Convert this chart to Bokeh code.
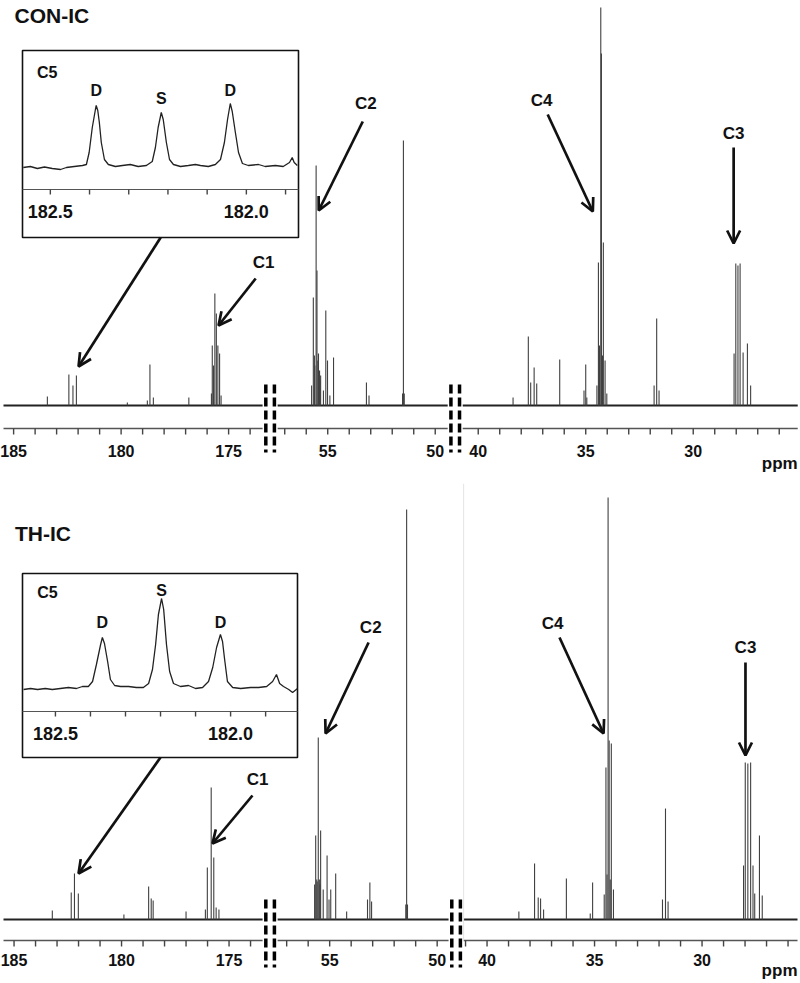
import numpy as np
from bokeh.plotting import figure
from bokeh.layouts import column
from bokeh.models import Range1d, Arrow, OpenHead, ColumnDataSource
from bokeh.core.properties import value
from bokeh.embed import file_html
from bokeh.resources import INLINE

FONT = value("Liberation Sans")
PX = 21.5      # display scale (screen px per ppm)
GAP = 0.70     # width of an axis break, in ppm-sized display units
D0 = 0.14      # left margin of the first axis segment
WIDTH = 800

# ---------------- data ----------------
PANEL_TITLES = ["CON-IC", "TH-IC"]

# visible chemical-shift windows of the broken axis (left ppm, right ppm)
TOP_SEGMENTS = [(185.47, 173.42), (57.33, 49.42), (40.72, 25.14)]
BOT_SEGMENTS = [(185.49, 173.44), (57.42, 49.47), (41.09, 25.56)]

MAJOR_TICKS = [185, 180, 175, 55, 50, 40, 35, 30]
TOP_MINOR_TICKS = list(range(174, 186)) + list(range(50, 58)) + list(range(26, 41))
BOT_MINOR_TICKS = list(range(174, 186)) + list(range(50, 58)) + list(range(26, 42))

# CON-IC spectrum: peak positions (ppm) and intensities (a.u.)
TOP_PEAK_PPM = [183.43, 182.43, 182.24, 182.08, 179.71, 178.78, 178.66, 178.50, 176.85,
                175.80, 175.76, 175.70, 175.64, 175.57, 175.50, 175.42, 175.35,
                55.75, 55.67, 55.62, 55.60, 55.54, 55.50, 55.46, 55.43, 55.38, 55.36, 55.33,
                55.20, 55.09, 55.01, 54.90, 54.73, 53.20, 53.08, 51.52, 51.48, 51.44,
                38.38, 37.67, 37.56, 37.40, 37.28, 36.21, 35.08, 35.00, 34.95,
                34.48, 34.41, 34.36, 34.30, 34.27, 34.22, 34.18, 34.10, 34.02,
                31.82, 31.70, 31.59,
                28.10, 28.02, 27.92, 27.82, 27.68, 27.48, 27.33]
TOP_PEAK_INT = [9, 31, 20, 30, 3, 5, 41, 8, 8,
                12, 60, 40, 112, 92, 60, 52, 10,
                20, 108, 50, 40, 240, 135, 45, 52, 35, 25, 30,
                15, 95, 45, 10, 48, 23, 10, 12, 265, 12,
                8, 69, 23, 38, 22, 46, 15, 41, 8,
                20, 143, 60, 398, 352, 50, 163, 45, 12,
                20, 87, 15,
                52, 142, 140, 142, 53, 62, 20]

# TH-IC spectrum
BOT_PEAK_PPM = [183.22, 182.34, 182.19, 182.01, 179.89, 178.74, 178.62, 178.53, 177.00,
                176.10, 176.01, 175.83, 175.71, 175.60, 175.47,
                55.70, 55.65, 55.60, 55.58, 55.53, 55.48, 55.45, 55.42, 55.30, 55.12, 55.03,
                54.95, 54.72, 54.21, 53.24, 53.13, 53.05, 51.46, 51.42, 51.38,
                38.52, 37.79, 37.62, 37.51, 37.37, 36.31, 35.20, 35.09,
                34.55, 34.47, 34.42, 34.37, 34.32, 34.27, 34.22, 34.12,
                31.84, 31.70, 31.58,
                28.07, 27.99, 27.87, 27.74, 27.63, 27.55, 27.33, 27.20]
BOT_PEAK_INT = [9, 27, 46, 26, 5, 33, 21, 19, 8,
                10, 52, 132, 62, 12, 10,
                35, 84, 40, 38, 182, 40, 35, 89, 30, 64, 20,
                30, 46, 8, 20, 37, 18, 15, 410, 15,
                8, 56, 22, 21, 10, 41, 6, 37,
                25, 152, 45, 422, 179, 40, 176, 30,
                20, 111, 18,
                54, 157, 156, 157, 54, 26, 84, 24]

# C5 expansions (insets): trace ppm / intensity
TOP_INSET_PPM = [182.569, 182.551, 182.533, 182.515, 182.495, 182.474, 182.459, 182.439, 182.418, 182.408,
                 182.401, 182.393, 182.385, 182.383, 182.379, 182.375, 182.370, 182.362, 182.352, 182.334,
                 182.316, 182.296, 182.276, 182.255, 182.240, 182.232, 182.225, 182.217, 182.212, 182.204,
                 182.196, 182.186, 182.168, 182.148, 182.130, 182.117, 182.097, 182.079, 182.066, 182.056,
                 182.048, 182.041, 182.036, 182.028, 182.020, 182.010, 181.995, 181.969, 181.952, 181.926,
                 181.906, 181.890, 181.883, 181.878, 181.870]
TOP_INSET_INT = [0, 1, -1, 0.5, -1, -2, 0, 1, 2, 3,
                 15, 40, 58, 62, 57, 45, 25, 8, 3, 1,
                 2, 3, 1, 2, 6, 20, 40, 55, 48, 25,
                 8, 3, 1, 2, 3, 2, 1, 3, 8, 25,
                 48, 64, 56, 35, 15, 4, 2, 3, 1, 2,
                 1, 5, 10, 5, 2]
BOT_INSET_PPM = [182.591, 182.571, 182.551, 182.529, 182.509, 182.486, 182.463, 182.440, 182.423, 182.406,
                 182.394, 182.383, 182.371, 182.366, 182.360, 182.351, 182.343, 182.331, 182.314, 182.291,
                 182.269, 182.249, 182.234, 182.223, 182.214, 182.206, 182.197, 182.191, 182.183, 182.174,
                 182.163, 182.143, 182.120, 182.100, 182.080, 182.063, 182.051, 182.040, 182.029, 182.023,
                 182.017, 182.009, 181.994, 181.971, 181.943, 181.920, 181.897, 181.880, 181.869, 181.860,
                 181.849, 181.834, 181.823, 181.809]
BOT_INSET_INT = [0, 1, 0, 1, 0, 1, 2, 1, 3, 3,
                 8, 25, 45, 52, 46, 28, 10, 4, 3, 3,
                 2, 2, 6, 20, 45, 75, 91, 80, 45, 18,
                 6, 3, 4, 1, 2, 8, 22, 42, 55, 48,
                 30, 8, 2, 1, 2, 2, 3, 8, 15, 6,
                 3, 0, -3, 1]
INSET_TICKS = [182.5, 182.4, 182.3, 182.2, 182.1, 182.0, 181.9]
INSET_LABEL_TICKS = [182.5, 182.0]

# inset peak labels
TOP_INSET_LABELS = ["C5", "D", "S", "D"]
TOP_INSET_LABEL_PPM = [182.508, 182.383, 182.217, 182.041]
TOP_INSET_LABEL_Y = [95, 77, 69, 77]
BOT_INSET_LABELS = ["C5", "D", "S", "D"]
BOT_INSET_LABEL_PPM = [182.523, 182.366, 182.197, 182.029]
BOT_INSET_LABEL_Y = [97, 67, 99, 67]

# assignments (label, axis segment, ppm, height) and arrows (segment, ppm0, y0, ppm1, y1)
TOP_LABELS = ["C1", "C2", "C4", "C3"]
TOP_LABEL_SEG = [0, 1, 2, 2]
TOP_LABEL_PPM = [173.37, 53.23, 37.05, 28.12]
TOP_LABEL_Y = [143, 302, 305, 272]
TOP_ARROW_SEG = [0, 0, 1, 2, 2]
TOP_ARROW_PPM0 = [178.16, 173.74, 53.37, 36.77, 28.12]
TOP_ARROW_Y0 = [168, 127, 284, 291, 258]
TOP_ARROW_PPM1 = [181.98, 175.47, 55.42, 34.67, 28.12]
TOP_ARROW_Y1 = [39, 80, 195, 194, 162]

BOT_LABELS = ["C1", "C2", "C4", "C3"]
BOT_LABEL_SEG = [0, 1, 2, 2]
BOT_LABEL_PPM = [173.67, 53.09, 36.95, 27.98]
BOT_LABEL_Y = [140, 292, 296, 272]
BOT_ARROW_SEG = [0, 0, 1, 2, 2]
BOT_ARROW_PPM0 = [178.19, 173.91, 53.19, 36.63, 27.98]
BOT_ARROW_Y0 = [162, 124, 277, 282, 257]
BOT_ARROW_PPM1 = [182.00, 175.77, 55.19, 34.58, 27.98]
BOT_ARROW_Y1 = [46, 76, 186, 186, 164]


# ---------------- helpers ----------------
def seg_start(k, segs):
    d = D0
    for i in range(k):
        d += (segs[i][0] - segs[i][1]) + GAP
    return d


def seg_d(ppm, k, segs):
    return seg_start(k, segs) + (segs[k][0] - np.asarray(ppm, float))


def to_d(ppms, segs):
    out = []
    for v in ppms:
        for k, (a, b) in enumerate(segs):
            if b - 1e-6 <= v <= a + 1e-6:
                out.append(float(seg_d(v, k, segs)))
                break
        else:
            out.append(np.nan)
    return out


def build_panel(height, ylo, yhi, segs, title, title_y,
                peak_ppm, peak_int, minor_ticks, axis_y, label_y, ppm_y, brk,
                inset, labels, arrows):
    p = figure(width=WIDTH, height=height, x_range=Range1d(0, WIDTH / PX), y_range=Range1d(ylo, yhi),
               output_backend="svg", toolbar_location=None, min_border=0,
               x_axis_location=None, y_axis_location=None)
    p.outline_line_color = None
    p.grid.visible = False
    p.background_fill_color = "white"

    # baseline of each spectral window
    starts = [seg_start(k, segs) for k in range(len(segs))]
    ends = [s + (a - b) for s, (a, b) in zip(starts, segs)]
    p.segment(x0=starts, y0=[0] * 3, x1=ends, y1=[0] * 3, line_color="#222222", line_width=1.8)

    # spectrum lines
    xd = to_d(peak_ppm, segs)
    p.segment(x0=xd, y0=[0] * len(xd), x1=xd, y1=peak_int, line_color="#404040", line_width=1.1)

    # broken ppm axis
    p.segment(x0=starts, y0=[axis_y] * 3, x1=ends, y1=[axis_y] * 3, line_color="#555555", line_width=1.3)
    td = to_d(minor_ticks, segs)
    p.segment(x0=td, y0=[axis_y] * len(td), x1=td, y1=[axis_y - 6] * len(td),
              line_color="#444444", line_width=1.4)
    md = to_d(MAJOR_TICKS, segs)
    p.text(x=md, y=[label_y] * len(md), text=[str(t) for t in MAJOR_TICKS],
           text_font=FONT, text_font_style="bold", text_font_size="16px",
           text_align="center", text_baseline="middle", text_color="#111111")
    p.text(x=[ends[-1]], y=[ppm_y], text=["ppm"], text_font=FONT, text_font_style="bold",
           text_font_size="17px", text_align="right", text_baseline="middle", text_color="#111111")

    # break marks
    bx = []
    for k in range(len(segs) - 1):
        c = ends[k] + GAP / 2
        bx += [c - 0.2, c + 0.2]
    p.segment(x0=bx, y0=[brk[0]] * len(bx), x1=bx, y1=[brk[1]] * len(bx),
              line_color="black", line_width=3.5, line_dash="9 4")

    # panel title
    p.text(x=[float(seg_d(184.96, 0, segs))], y=[title_y], text=[title], text_font=FONT,
           text_font_style="bold", text_font_size="21px", text_align="left",
           text_baseline="middle", text_color="#111111")

    # assignment labels and arrows
    lab, lseg, lppm, ly = labels
    lx = [float(seg_d(v, k, segs)) for v, k in zip(lppm, lseg)]
    p.text(x=lx, y=ly, text=lab, text_font=FONT, text_font_style="bold", text_font_size="17px",
           text_align="center", text_baseline="middle", text_color="#111111")
    aseg, ap0, ay0, ap1, ay1 = arrows
    src = ColumnDataSource(dict(
        xs=[float(seg_d(v, k, segs)) for v, k in zip(ap0, aseg)], ys=ay0,
        xe=[float(seg_d(v, k, segs)) for v, k in zip(ap1, aseg)], ye=ay1))
    p.add_layout(Arrow(source=src, x_start="xs", y_start="ys", x_end="xe", y_end="ye",
                       line_color="#111111", line_width=2.7,
                       end=OpenHead(size=13, line_color="#111111", line_width=2.7)))

    # inset (C5 expansion) in its own sub-coordinate system
    (ix0, ix1, iy0, iy1, tx0, tx1, ty0, ty1, ippm, iint, ilab, ilppm, ily) = inset
    sub = p.subplot(x_source=Range1d(ix0, ix1), y_source=Range1d(iy0, iy1),
                    x_target=Range1d(tx0 / PX, tx1 / PX), y_target=Range1d(ty0, ty1))
    sub.quad(left=[ix0], right=[ix1], bottom=[iy0], top=[iy1], fill_color="white",
             line_color="#111111", line_width=1.6)
    sub.line(x=ippm, y=iint, line_color="#222222", line_width=1.3)
    sub.segment(x0=[ix0], y0=[-22], x1=[ix1], y1=[-22], line_color="#555555", line_width=1.2)
    sub.segment(x0=INSET_TICKS, y0=[-22] * len(INSET_TICKS), x1=INSET_TICKS, y1=[-27] * len(INSET_TICKS),
                line_color="#444444", line_width=1.4)
    sub.text(x=INSET_LABEL_TICKS, y=[-44] * 2, text=["182.5", "182.0"], text_font=FONT,
             text_font_style="bold", text_font_size="18px", text_align="center",
             text_baseline="middle", text_color="#111111")
    sub.text(x=ilppm, y=ily, text=ilab, text_font=FONT, text_font_style="bold",
             text_font_size="16px", text_align="center", text_baseline="middle", text_color="#111111")
    return p


top = build_panel(
    483, -78, 405, TOP_SEGMENTS, PANEL_TITLES[0], 390,
    TOP_PEAK_PPM, TOP_PEAK_INT, TOP_MINOR_TICKS, -23, -45, -58, (21, -47),
    (182.571, 181.867, -70, 117, 22, 298, 168, 355,
     TOP_INSET_PPM, TOP_INSET_INT, TOP_INSET_LABELS, TOP_INSET_LABEL_PPM, TOP_INSET_LABEL_Y),
    (TOP_LABELS, TOP_LABEL_SEG, TOP_LABEL_PPM, TOP_LABEL_Y),
    (TOP_ARROW_SEG, TOP_ARROW_PPM0, TOP_ARROW_Y0, TOP_ARROW_PPM1, TOP_ARROW_Y1))

bottom = build_panel(
    498, -62, 436, BOT_SEGMENTS, PANEL_TITLES[1], 386,
    BOT_PEAK_PPM, BOT_PEAK_INT, BOT_MINOR_TICKS, -21, -40, -51, (20, -48),
    (182.594, 181.809, -68, 116, 22, 297, 162, 346,
     BOT_INSET_PPM, BOT_INSET_INT, BOT_INSET_LABELS, BOT_INSET_LABEL_PPM, BOT_INSET_LABEL_Y),
    (BOT_LABELS, BOT_LABEL_SEG, BOT_LABEL_PPM, BOT_LABEL_Y),
    (BOT_ARROW_SEG, BOT_ARROW_PPM0, BOT_ARROW_Y0, BOT_ARROW_PPM1, BOT_ARROW_Y1))

# faint vertical trace seen at the start of the last window in the lower spectrum
bd = seg_start(2, BOT_SEGMENTS)
bottom.segment(x0=[bd], y0=[436], x1=[bd], y1=[-21], line_color="#e4e4e4", line_width=1)

layout = column(top, bottom, spacing=0)
open("out.html", "w").write(file_html(layout, INLINE))
